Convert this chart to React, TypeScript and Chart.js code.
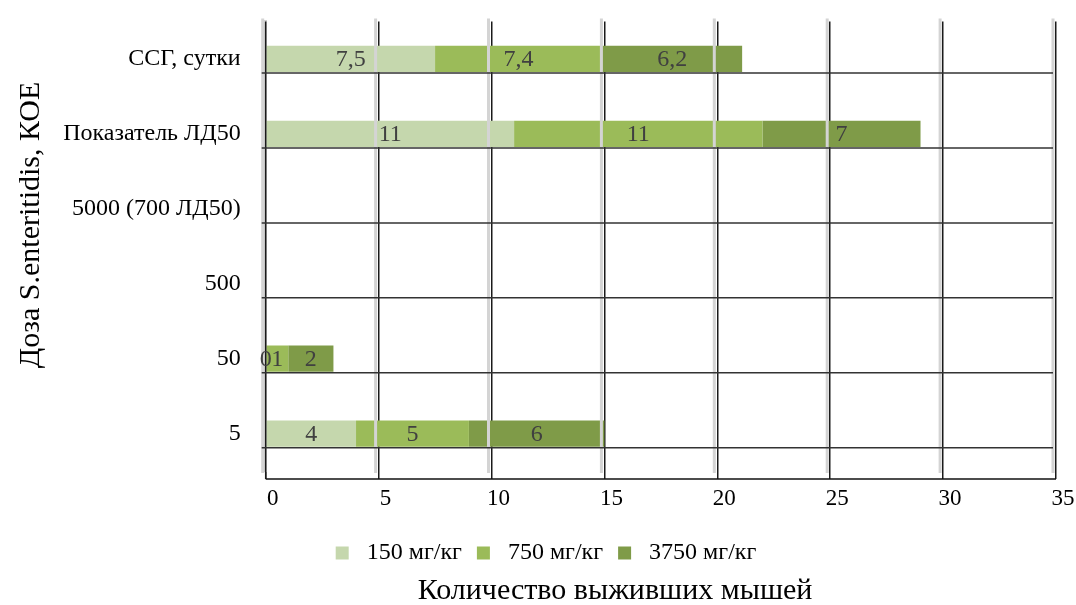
import React, { useEffect, useRef } from 'react';
import { Chart, registerables } from 'chart.js';

Chart.register(...registerables);

// Survival of mice per infection dose, stacked by preparation dose
const categories = ['ССГ, сутки', 'Показатель ЛД50', '5000 (700 ЛД50)', '500', '50', '5'];
const seriesNames = ['150 мг/кг', '750 мг/кг', '3750 мг/кг'];
const dose150: (number | null)[] = [7.5, 11, null, null, 0, 4];
const dose750: (number | null)[] = [7.4, 11, null, null, 1, 5];
const dose3750: (number | null)[] = [6.2, 7, null, null, 2, 6];
const xTicks = [0, 5, 10, 15, 20, 25, 30, 35];
const yAxisTitle = 'Доза S.enteritidis, КОЕ';
const xAxisTitle = 'Количество выживших мышей';

const FONT = "'Liberation Serif', 'Times New Roman', serif";
const COLORS = ['#c5d7ad', '#9bbb59', '#7f9b48'];

const fmt = (v: number) => String(v).replace('.', ',');

// light "depth" strips beside each vertical grid line, drawn over the bars
const gridShadows = {
  id: 'gridShadows',
  afterDatasetsDraw(chart: any) {
    const { ctx, chartArea, scales } = chart;
    const x = scales.x;
    ctx.save();
    ctx.strokeStyle = '#d4d4d4';
    ctx.lineWidth = 3;
    x.ticks.forEach((t: any) => {
      const px = x.getPixelForValue(t.value) - 3;
      ctx.beginPath();
      ctx.moveTo(px, chartArea.top - 3);
      ctx.lineTo(px, chartArea.bottom + 2);
      ctx.stroke();
    });
    ctx.restore();
  },
};

// row rules under each bar, bottom axis line, value labels and axis captions
const decorations = {
  id: 'decorations',
  afterDraw(chart: any) {
    const { ctx, chartArea, scales } = chart;
    const x = scales.x;
    const y = scales.y;
    const meta0 = chart.getDatasetMeta(0);
    const half = meta0.data[0].height / 2;

    ctx.save();
    // 0 grid line on top of the axis strip
    ctx.strokeStyle = '#1a1a1a';
    ctx.lineWidth = 1.5;
    ctx.beginPath();
    ctx.moveTo(x.getPixelForValue(0), chartArea.top);
    ctx.lineTo(x.getPixelForValue(0), chartArea.bottom + 8);
    ctx.stroke();

    ctx.strokeStyle = '#333';
    categories.forEach((_, i) => {
      const py = y.getPixelForValue(i) + half + 1;
      ctx.beginPath();
      ctx.moveTo(chartArea.left - 4, py);
      ctx.lineTo(chartArea.right - 3, py);
      ctx.stroke();
    });
    // bottom axis line
    ctx.strokeStyle = '#111';
    ctx.beginPath();
    ctx.moveTo(chartArea.left, chartArea.bottom + 8);
    ctx.lineTo(chartArea.right, chartArea.bottom + 8);
    ctx.stroke();

    // values inside the segments
    ctx.fillStyle = '#404040';
    ctx.font = `24px ${FONT}`;
    ctx.textAlign = 'center';
    ctx.textBaseline = 'middle';
    chart.data.datasets.forEach((ds: any, di: number) => {
      const meta = chart.getDatasetMeta(di);
      meta.data.forEach((el: any, i: number) => {
        const v = ds.data[i];
        if (v === null || v === undefined) return;
        const p = el.getProps(['x', 'base', 'y'], true);
        ctx.fillText(fmt(v), (p.x + p.base) / 2, p.y + 1);
      });
    });

    // axis captions
    ctx.fillStyle = '#000';
    ctx.font = `30px ${FONT}`;
    ctx.fillText(xAxisTitle, 615, 591);
    ctx.translate(31, 225);
    ctx.rotate(-Math.PI / 2);
    ctx.fillText(yAxisTitle, 0, 0);
    ctx.restore();
  },
};

export default function App() {
  const ref = useRef<HTMLCanvasElement | null>(null);

  useEffect(() => {
    if (!ref.current) return;
    const series = [dose150, dose750, dose3750];
    const chart = new Chart(ref.current, {
      type: 'bar',
      data: {
        labels: categories,
        datasets: series.map((d, i) => ({
          label: seriesNames[i],
          data: d,
          backgroundColor: COLORS[i],
          borderWidth: 0,
          categoryPercentage: 0.7,
          barPercentage: 0.5,
        })),
      },
      options: {
        indexAxis: 'y',
        responsive: false,
        animation: false,
        layout: { padding: { left: 36, right: 20, top: 21.5, bottom: 30 } },
        plugins: {
          tooltip: { enabled: false },
          legend: {
            position: 'bottom',
            labels: {
              font: { family: FONT, size: 24 },
              color: '#000',
              boxWidth: 13,
              boxHeight: 13,
              padding: 15,
              generateLabels: (c: any) =>
                Chart.defaults.plugins.legend.labels
                  .generateLabels(c)
                  .map((it: any) => ({ ...it, text: ' ' + it.text, lineWidth: 0 })),
            },
          },
        },
        scales: {
          x: {
            type: 'linear',
            stacked: true,
            min: 0,
            max: 35,
            z: 1,
            afterBuildTicks: (s: any) => {
              s.ticks = xTicks.map((v) => ({ value: v }));
            },
            afterFit: (s: any) => {
              s.height = 55;
            },
            grid: { color: '#1a1a1a', lineWidth: 1.5, drawTicks: true, tickLength: 8 },
            border: { display: false },
            ticks: {
              labelOffset: 7,
              padding: 6,
              color: '#000',
              font: { family: FONT, size: 23 },
            },
          },
          y: {
            type: 'category',
            stacked: true,
            afterFit: (s: any) => {
              s.width = 229.7;
              s.paddingTop = 0;
              s.paddingBottom = 0;
            },
            grid: { display: false, drawTicks: false },
            border: { display: true, color: '#cfcfcf', width: 3 },
            ticks: {
              padding: 25,
              color: '#000',
              font: { family: FONT, size: 24 },
            },
          },
        },
      },
      plugins: [gridShadows, decorations],
    });
    return () => chart.destroy();
  }, []);

  return (
    <div style={{ position: 'fixed', left: 0, top: 0, width: 1076, height: 605, background: '#fff' }}>
      <canvas ref={ref} width={1076} height={605} style={{ display: 'block' }} />
    </div>
  );
}
